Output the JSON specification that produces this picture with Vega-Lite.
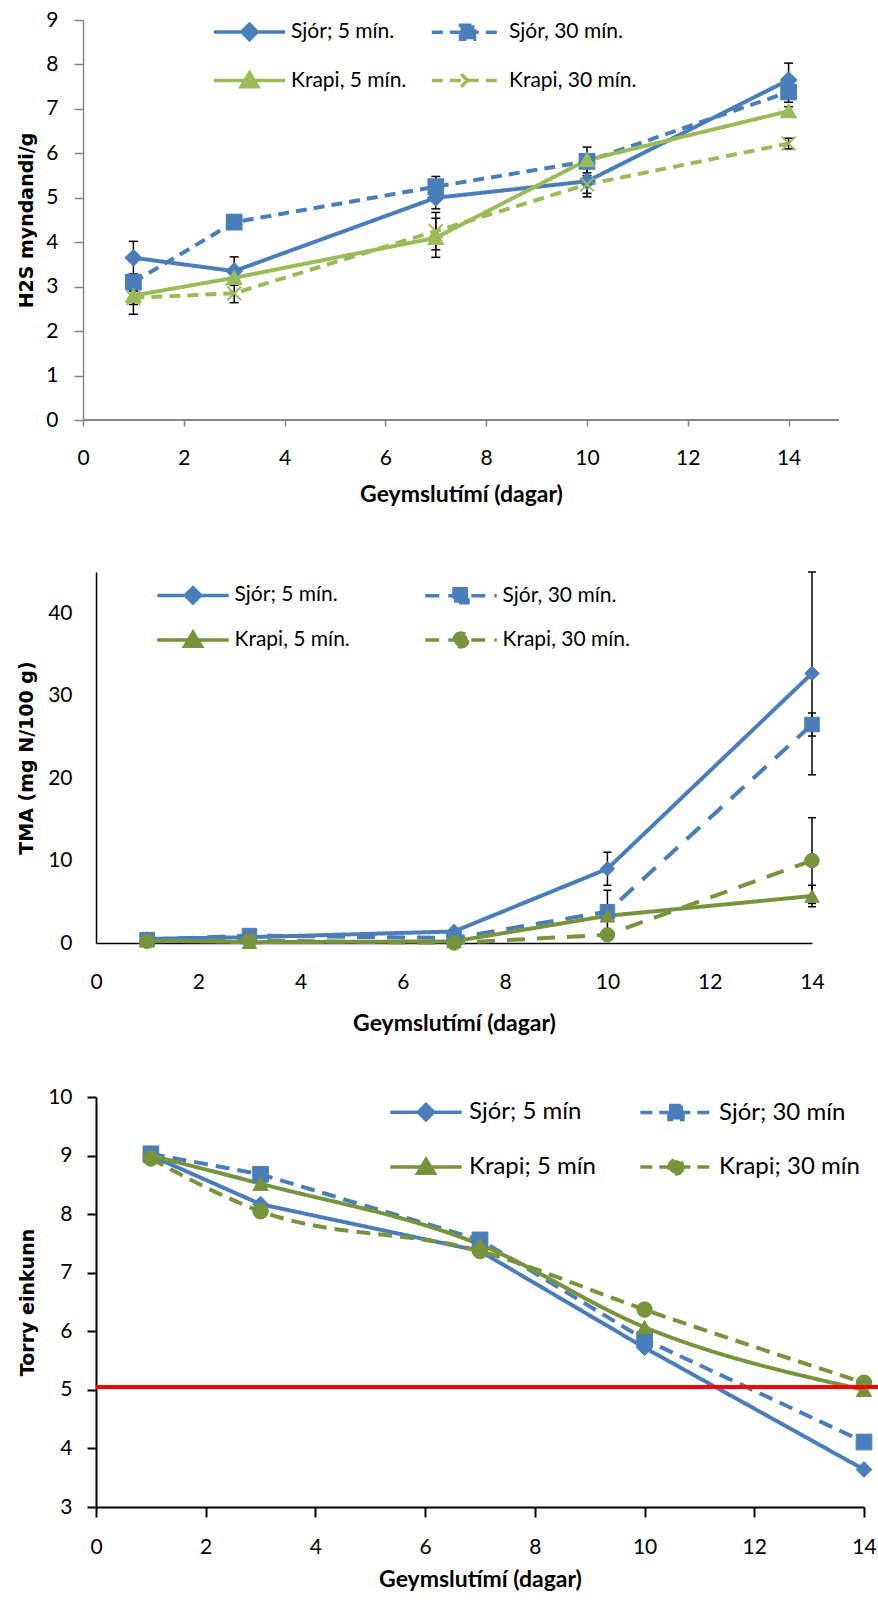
{
  "$schema": "https://vega.github.io/schema/vega-lite/v6.json",
  "background": "white",
  "padding": {"left": 17, "top": 9, "right": 0, "bottom": 0},
  "config": {
    "view": {"stroke": null},
    "axis": {"grid": false, "labelFont": "Lato", "labelFontSize": 21, "labelColor": "#000000", "titleColor": "#000000"},
    "legend": {"labelFont": "Lato", "labelColor": "#000000"}
  },
  "datasets": {
    "h2s": [
      {"s": "Sjór; 5 mín.", "x": 1, "y": 3.65, "lo": 3.28, "hi": 4.02},
      {"s": "Sjór; 5 mín.", "x": 3, "y": 3.35, "lo": 3.03, "hi": 3.67},
      {"s": "Sjór; 5 mín.", "x": 7, "y": 5.0, "lo": 4.75, "hi": 5.25},
      {"s": "Sjór; 5 mín.", "x": 10, "y": 5.37, "lo": 5.02, "hi": 5.72},
      {"s": "Sjór; 5 mín.", "x": 14, "y": 7.65, "lo": 7.27, "hi": 8.03},
      {"s": "Sjór, 30 mín.", "x": 1, "y": 3.1, "lo": 2.92, "hi": 3.28},
      {"s": "Sjór, 30 mín.", "x": 3, "y": 4.45, "lo": 4.3, "hi": 4.6},
      {"s": "Sjór, 30 mín.", "x": 7, "y": 5.25, "lo": 5.02, "hi": 5.48},
      {"s": "Sjór, 30 mín.", "x": 10, "y": 5.82, "lo": 5.7, "hi": 5.94},
      {"s": "Sjór, 30 mín.", "x": 14, "y": 7.38, "lo": 7.15, "hi": 7.61},
      {"s": "Krapi, 5 mín.", "x": 1, "y": 2.8, "lo": 2.38, "hi": 3.22},
      {"s": "Krapi, 5 mín.", "x": 3, "y": 3.2, "lo": 3.05, "hi": 3.35},
      {"s": "Krapi, 5 mín.", "x": 7, "y": 4.1, "lo": 3.66, "hi": 4.54},
      {"s": "Krapi, 5 mín.", "x": 10, "y": 5.85, "lo": 5.56, "hi": 6.14},
      {"s": "Krapi, 5 mín.", "x": 14, "y": 6.95, "lo": 6.85, "hi": 7.05},
      {"s": "Krapi, 30 mín.", "x": 1, "y": 2.75, "lo": 2.6, "hi": 2.9},
      {"s": "Krapi, 30 mín.", "x": 3, "y": 2.85, "lo": 2.64, "hi": 3.06},
      {"s": "Krapi, 30 mín.", "x": 7, "y": 4.25, "lo": 3.83, "hi": 4.67},
      {"s": "Krapi, 30 mín.", "x": 10, "y": 5.3, "lo": 5.1, "hi": 5.5},
      {"s": "Krapi, 30 mín.", "x": 14, "y": 6.22, "lo": 6.1, "hi": 6.34}
    ],
    "tma": [
      {"s": "Sjór; 5 mín.", "x": 1, "y": 0.5, "lo": null, "hi": null},
      {"s": "Sjór; 5 mín.", "x": 3, "y": 0.7, "lo": null, "hi": null},
      {"s": "Sjór; 5 mín.", "x": 7, "y": 1.4, "lo": null, "hi": null},
      {"s": "Sjór; 5 mín.", "x": 10, "y": 9.0, "lo": 7.0, "hi": 11.0},
      {"s": "Sjór; 5 mín.", "x": 14, "y": 32.7, "lo": 20.4, "hi": 45.0},
      {"s": "Sjór, 30 mín.", "x": 1, "y": 0.4, "lo": null, "hi": null},
      {"s": "Sjór, 30 mín.", "x": 3, "y": 0.9, "lo": null, "hi": null},
      {"s": "Sjór, 30 mín.", "x": 7, "y": 0.6, "lo": null, "hi": null},
      {"s": "Sjór, 30 mín.", "x": 10, "y": 3.8, "lo": 1.2, "hi": 6.4},
      {"s": "Sjór, 30 mín.", "x": 14, "y": 26.5, "lo": 25.1, "hi": 27.9},
      {"s": "Krapi, 5 mín.", "x": 1, "y": 0.3, "lo": null, "hi": null},
      {"s": "Krapi, 5 mín.", "x": 3, "y": 0.1, "lo": null, "hi": null},
      {"s": "Krapi, 5 mín.", "x": 7, "y": 0.2, "lo": null, "hi": null},
      {"s": "Krapi, 5 mín.", "x": 10, "y": 3.3, "lo": 2.8, "hi": 3.8},
      {"s": "Krapi, 5 mín.", "x": 14, "y": 5.7, "lo": 4.4, "hi": 7.0},
      {"s": "Krapi, 30 mín.", "x": 1, "y": 0.2, "lo": null, "hi": null},
      {"s": "Krapi, 30 mín.", "x": 3, "y": 0.3, "lo": null, "hi": null},
      {"s": "Krapi, 30 mín.", "x": 7, "y": 0.0, "lo": null, "hi": null},
      {"s": "Krapi, 30 mín.", "x": 10, "y": 1.0, "lo": null, "hi": null},
      {"s": "Krapi, 30 mín.", "x": 14, "y": 10.0, "lo": 4.8, "hi": 15.2}
    ],
    "torry": [
      {"s": "Sjór; 5 mín", "x": 1, "y": 9.0},
      {"s": "Sjór; 5 mín", "x": 3, "y": 8.17},
      {"s": "Sjór; 5 mín", "x": 7, "y": 7.37},
      {"s": "Sjór; 5 mín", "x": 10, "y": 5.72},
      {"s": "Sjór; 5 mín", "x": 14, "y": 3.64},
      {"s": "Sjór; 30 mín", "x": 1, "y": 9.03},
      {"s": "Sjór; 30 mín", "x": 3, "y": 8.68},
      {"s": "Sjór; 30 mín", "x": 7, "y": 7.56},
      {"s": "Sjór; 30 mín", "x": 10, "y": 5.86},
      {"s": "Sjór; 30 mín", "x": 14, "y": 4.11},
      {"s": "Krapi; 5 mín", "x": 1, "y": 9.0},
      {"s": "Krapi; 5 mín", "x": 3, "y": 8.52},
      {"s": "Krapi; 5 mín", "x": 7, "y": 7.48},
      {"s": "Krapi; 5 mín", "x": 10, "y": 6.07},
      {"s": "Krapi; 5 mín", "x": 14, "y": 5.0},
      {"s": "Krapi; 30 mín", "x": 1, "y": 8.95},
      {"s": "Krapi; 30 mín", "x": 3, "y": 8.05},
      {"s": "Krapi; 30 mín", "x": 7, "y": 7.37},
      {"s": "Krapi; 30 mín", "x": 10, "y": 6.37},
      {"s": "Krapi; 30 mín", "x": 14, "y": 5.12}
    ]
  },
  "columns": 1,
  "bounds": "full",
  "spacing": 65,
  "resolve": {"scale": {"color": "independent", "fill": "independent", "shape": "independent", "strokeDash": "independent", "stroke": "independent", "size": "independent"}},
  "concat": [
    {
      "width": 743,
      "height": 400,
      "data": {"name": "h2s"},
      "resolve": {"scale": {"color": "independent", "fill": "independent", "shape": "independent", "strokeDash": "independent", "stroke": "independent", "size": "independent"}},
      "encoding": {
        "x": {"field": "x", "type": "quantitative", "scale": {"domain": [0, 15], "range": [-13, 743], "nice": false},
          "axis": {"values": [0, 2, 4, 6, 8, 10, 12, 14], "title": "Geymslutímí (dagar)", "titleFont": "Lato", "titleFontSize": 23, "titleFontWeight": "bold", "titlePadding": 15,
            "domain": false, "tickColor": "#868686", "tickWidth": 1.5, "tickSize": 6, "labelPadding": 21, "labelFlush": false}},
        "y": {"field": "y", "type": "quantitative", "scale": {"domain": [0, 9], "nice": false},
          "axis": {"values": [0, 1, 2, 3, 4, 5, 6, 7, 8, 9], "title": "H2S myndandi/g", "titleFont": "DejaVu Sans", "titleFontSize": 19, "titleFontWeight": "bold", "titlePadding": 10, "minExtent": 37, "maxExtent": 37, "offset": 13,
            "domainColor": "#868686", "domainWidth": 1.5, "tickColor": "#868686", "tickWidth": 1.5, "tickSize": 9, "labelPadding": 16}}
      },
      "layer": [
        {
          "mark": {"type": "rule", "color": "#868686", "strokeWidth": 1.5},
          "encoding": {"x": {"datum": 0}, "x2": {"datum": 15}, "y": {"datum": 0}}
        },
        {
          "mark": {"type": "line", "strokeWidth": 4},
          "encoding": {
            "color": {"field": "s", "type": "nominal", "legend": null, "scale": {"domain": ["Sjór; 5 mín.", "Sjór, 30 mín.", "Krapi, 5 mín.", "Krapi, 30 mín."], "range": ["#4A7EBB", "#4A7EBB", "#9BBB59", "#9BBB59"]}},
            "strokeDash": {"field": "s", "type": "nominal", "legend": null, "scale": {"domain": ["Sjór; 5 mín.", "Sjór, 30 mín.", "Krapi, 5 mín.", "Krapi, 30 mín."], "range": [[1, 0], [11, 7], [1, 0], [11, 7]]}}
          }
        },
        {
          "transform": [{"filter": "isValid(datum.lo)"}],
          "mark": {"type": "rule", "color": "#000000", "strokeWidth": 1.5},
          "encoding": {
            "y": {"field": "lo", "type": "quantitative", "scale": {"domain": [0, 9], "nice": false},
              "axis": {"values": [0, 1, 2, 3, 4, 5, 6, 7, 8, 9], "title": "H2S myndandi/g", "titleFont": "DejaVu Sans", "titleFontSize": 19, "titleFontWeight": "bold", "titlePadding": 10, "minExtent": 37, "maxExtent": 37, "offset": 13,
                "domainColor": "#868686", "domainWidth": 1.5, "tickColor": "#868686", "tickWidth": 1.5, "tickSize": 9, "labelPadding": 16}},
            "y2": {"field": "hi"}
          }
        },
        {
          "transform": [{"filter": "isValid(datum.lo)"}],
          "mark": {"type": "tick", "orient": "horizontal", "color": "#000000", "size": 9, "thickness": 1.5, "opacity": 1},
          "encoding": {
            "y": {"field": "lo", "type": "quantitative", "scale": {"domain": [0, 9], "nice": false},
              "axis": {"values": [0, 1, 2, 3, 4, 5, 6, 7, 8, 9], "title": "H2S myndandi/g", "titleFont": "DejaVu Sans", "titleFontSize": 19, "titleFontWeight": "bold", "titlePadding": 10, "minExtent": 37, "maxExtent": 37, "offset": 13,
                "domainColor": "#868686", "domainWidth": 1.5, "tickColor": "#868686", "tickWidth": 1.5, "tickSize": 9, "labelPadding": 16}}
          }
        },
        {
          "transform": [{"filter": "isValid(datum.hi)"}],
          "mark": {"type": "tick", "orient": "horizontal", "color": "#000000", "size": 9, "thickness": 1.5, "opacity": 1},
          "encoding": {
            "y": {"field": "hi", "type": "quantitative", "scale": {"domain": [0, 9], "nice": false},
              "axis": {"values": [0, 1, 2, 3, 4, 5, 6, 7, 8, 9], "title": "H2S myndandi/g", "titleFont": "DejaVu Sans", "titleFontSize": 19, "titleFontWeight": "bold", "titlePadding": 10, "minExtent": 37, "maxExtent": 37, "offset": 13,
                "domainColor": "#868686", "domainWidth": 1.5, "tickColor": "#868686", "tickWidth": 1.5, "tickSize": 9, "labelPadding": 16}}
          }
        },
        {
          "mark": {"type": "point", "filled": true, "opacity": 1, "strokeWidth": 2},
          "encoding": {
            "color": {"field": "s", "type": "nominal", "legend": null, "scale": {"domain": ["Sjór; 5 mín.", "Sjór, 30 mín.", "Krapi, 5 mín.", "Krapi, 30 mín."], "range": ["#4A7EBB", "#4A7EBB", "#9BBB59", "#9BBB59"]}},
            "stroke": {"field": "s", "type": "nominal", "legend": null, "scale": {"domain": ["Sjór; 5 mín.", "Sjór, 30 mín.", "Krapi, 5 mín.", "Krapi, 30 mín."], "range": ["#4A7EBB", "#4A7EBB", "#9BBB59", "#9BBB59"]}},
            "shape": {"field": "s", "type": "nominal", "legend": null, "scale": {"domain": ["Sjór; 5 mín.", "Sjór, 30 mín.", "Krapi, 5 mín.", "Krapi, 30 mín."], "range": ["diamond", "square", "triangle-up", "M-1,-1L1,1M-1,1L1,-1"]}},
            "size": {"field": "s", "type": "nominal", "legend": null, "scale": {"domain": ["Sjór; 5 mín.", "Sjór, 30 mín.", "Krapi, 5 mín.", "Krapi, 30 mín."], "range": [230, 190, 230, 150]}}
          }
        },
        {
          "mark": {"type": "point", "filled": false, "opacity": 0},
          "encoding": {
            "stroke": {"field": "s", "type": "nominal", "scale": {"domain": ["Sjór; 5 mín.", "Sjór, 30 mín.", "Krapi, 5 mín.", "Krapi, 30 mín."], "range": ["#4A7EBB", "#4A7EBB", "#9BBB59", "#9BBB59"]},
              "legend": {"title": null, "orient": "none", "direction": "horizontal", "legendX": 143, "legendY": 1, "columns": 2, "padding": 0, "symbolSize": 196, "symbolStrokeWidth": 3.5, "symbolOpacity": 1, "labelFontSize": 21, "labelOffset": 31, "columnPadding": 17, "rowPadding": 18,
                "encoding": {"symbols": {"fill": {"condition": {"test": "indexof(datum.value, 'Sjór') >= 0", "value": "#4A7EBB"}, "value": "#9BBB59"}, "fillOpacity": {"value": 1}}}}},
            "shape": {"field": "s", "type": "nominal", "scale": {"domain": ["Sjór; 5 mín.", "Sjór, 30 mín.", "Krapi, 5 mín.", "Krapi, 30 mín."], "range": ["M-5.1,0H5.1M0,-1.1L1.1,0L0,1.1L-1.1,0Z", "M-5.1,0H5.1M-1,-1H1V1H-1Z", "M-5.1,0H5.1M0,-1.1L1.2,0.9H-1.2Z", "M-5.1,0H5.1M-0.9,-0.9L0.9,0.9M-0.9,0.9L0.9,-0.9"]}},
            "strokeDash": {"field": "s", "type": "nominal", "scale": {"domain": ["Sjór; 5 mín.", "Sjór, 30 mín.", "Krapi, 5 mín.", "Krapi, 30 mín."], "range": [[1, 0], [11, 7], [1, 0], [11, 7]]}}
          }
        }
      ]
    },
    {
      "columns": 1,
      "bounds": "full",
      "spacing": 51,
      "resolve": {"scale": {"color": "independent", "fill": "independent", "shape": "independent", "strokeDash": "independent", "stroke": "independent", "size": "independent"}},
      "concat": [
        {
          "width": 716,
          "height": 371,
          "data": {"name": "tma"},
          "resolve": {"scale": {"color": "independent", "fill": "independent", "shape": "independent", "strokeDash": "independent", "stroke": "independent", "size": "independent"}},
          "encoding": {
            "x": {"field": "x", "type": "quantitative", "scale": {"domain": [0, 14], "nice": false},
              "axis": {"values": [0, 2, 4, 6, 8, 10, 12, 14], "title": "Geymslutímí (dagar)", "titleFont": "Lato", "titleFontSize": 23, "titleFontWeight": "bold", "titlePadding": 20,
                "domainColor": "#000000", "domainWidth": 1.5, "ticks": false, "labelPadding": 28, "labelFlush": false}},
            "y": {"field": "y", "type": "quantitative", "scale": {"domain": [0, 45], "nice": false},
              "axis": {"values": [0, 10, 20, 30, 40], "title": "TMA  (mg N/100 g)", "titleFont": "DejaVu Sans", "titleFontSize": 19, "titleFontWeight": "bold", "titlePadding": 11, "minExtent": 49, "maxExtent": 49,
                "domainColor": "#000000", "domainWidth": 1.5, "ticks": false, "labelPadding": 24}}
          },
          "layer": [
            {
              "mark": {"type": "line", "strokeWidth": 4},
              "encoding": {
                "color": {"field": "s", "type": "nominal", "legend": null, "scale": {"domain": ["Sjór; 5 mín.", "Sjór, 30 mín.", "Krapi, 5 mín.", "Krapi, 30 mín."], "range": ["#4A7EBB", "#4A7EBB", "#77933C", "#77933C"]}},
                "strokeDash": {"field": "s", "type": "nominal", "legend": null, "scale": {"domain": ["Sjór; 5 mín.", "Sjór, 30 mín.", "Krapi, 5 mín.", "Krapi, 30 mín."], "range": [[1, 0], [18, 12], [1, 0], [18, 12]]}}
              }
            },
            {
              "transform": [{"filter": "isValid(datum.lo)"}],
              "mark": {"type": "rule", "color": "#000000", "strokeWidth": 1.5},
              "encoding": {
                "y": {"field": "lo", "type": "quantitative", "scale": {"domain": [0, 45], "nice": false},
                  "axis": {"values": [0, 10, 20, 30, 40], "title": "TMA  (mg N/100 g)", "titleFont": "DejaVu Sans", "titleFontSize": 19, "titleFontWeight": "bold", "titlePadding": 11, "minExtent": 49, "maxExtent": 49,
                    "domainColor": "#000000", "domainWidth": 1.5, "ticks": false, "labelPadding": 24}},
                "y2": {"field": "hi"}
              }
            },
            {
              "transform": [{"filter": "isValid(datum.lo)"}],
              "mark": {"type": "tick", "orient": "horizontal", "color": "#000000", "size": 8, "thickness": 1.5, "opacity": 1},
              "encoding": {
                "y": {"field": "lo", "type": "quantitative", "scale": {"domain": [0, 45], "nice": false},
                  "axis": {"values": [0, 10, 20, 30, 40], "title": "TMA  (mg N/100 g)", "titleFont": "DejaVu Sans", "titleFontSize": 19, "titleFontWeight": "bold", "titlePadding": 11, "minExtent": 49, "maxExtent": 49,
                    "domainColor": "#000000", "domainWidth": 1.5, "ticks": false, "labelPadding": 24}}
              }
            },
            {
              "transform": [{"filter": "isValid(datum.hi)"}],
              "mark": {"type": "tick", "orient": "horizontal", "color": "#000000", "size": 8, "thickness": 1.5, "opacity": 1},
              "encoding": {
                "y": {"field": "hi", "type": "quantitative", "scale": {"domain": [0, 45], "nice": false},
                  "axis": {"values": [0, 10, 20, 30, 40], "title": "TMA  (mg N/100 g)", "titleFont": "DejaVu Sans", "titleFontSize": 19, "titleFontWeight": "bold", "titlePadding": 11, "minExtent": 49, "maxExtent": 49,
                    "domainColor": "#000000", "domainWidth": 1.5, "ticks": false, "labelPadding": 24}}
              }
            },
            {
              "mark": {"type": "point", "filled": true, "opacity": 1, "strokeWidth": 1},
              "encoding": {
                "color": {"field": "s", "type": "nominal", "legend": null, "scale": {"domain": ["Sjór; 5 mín.", "Sjór, 30 mín.", "Krapi, 5 mín.", "Krapi, 30 mín."], "range": ["#4A7EBB", "#4A7EBB", "#77933C", "#77933C"]}},
                "stroke": {"field": "s", "type": "nominal", "legend": null, "scale": {"domain": ["Sjór; 5 mín.", "Sjór, 30 mín.", "Krapi, 5 mín.", "Krapi, 30 mín."], "range": ["#4A7EBB", "#4A7EBB", "#77933C", "#77933C"]}},
                "shape": {"field": "s", "type": "nominal", "legend": null, "scale": {"domain": ["Sjór; 5 mín.", "Sjór, 30 mín.", "Krapi, 5 mín.", "Krapi, 30 mín."], "range": ["diamond", "square", "triangle-up", "circle"]}},
                "size": {"field": "s", "type": "nominal", "legend": null, "scale": {"domain": ["Sjór; 5 mín.", "Sjór, 30 mín.", "Krapi, 5 mín.", "Krapi, 30 mín."], "range": [210, 210, 240, 210]}}
              }
            },
            {
              "mark": {"type": "point", "filled": false, "opacity": 0},
              "encoding": {
                "stroke": {"field": "s", "type": "nominal", "scale": {"domain": ["Sjór; 5 mín.", "Sjór, 30 mín.", "Krapi, 5 mín.", "Krapi, 30 mín."], "range": ["#4A7EBB", "#4A7EBB", "#77933C", "#77933C"]},
                  "legend": {"title": null, "orient": "none", "direction": "horizontal", "legendX": 86.5, "legendY": 12.5, "columns": 2, "padding": 0, "symbolSize": 196, "symbolStrokeWidth": 3.5, "symbolOpacity": 1, "labelFontSize": 21, "labelOffset": 31, "columnPadding": 67, "rowPadding": 14,
                    "encoding": {"symbols": {"fill": {"condition": {"test": "indexof(datum.value, 'Sjór') >= 0", "value": "#4A7EBB"}, "value": "#77933C"}, "fillOpacity": {"value": 1}}}}},
                "shape": {"field": "s", "type": "nominal", "scale": {"domain": ["Sjór; 5 mín.", "Sjór, 30 mín.", "Krapi, 5 mín.", "Krapi, 30 mín."], "range": ["M-5.1,0H5.1M0,-1.1L1.1,0L0,1.1L-1.1,0Z", "M-5.1,0H5.1M-1,-1H1V1H-1Z", "M-5.1,0H5.1M0,-1.1L1.2,0.9H-1.2Z", "M-5.1,0H5.1M1,0L0.87,0.5L0.5,0.87L0,1L-0.5,0.87L-0.87,0.5L-1,0L-0.87,-0.5L-0.5,-0.87L0,-1L0.5,-0.87L0.87,-0.5Z"]}},
                "strokeDash": {"field": "s", "type": "nominal", "scale": {"domain": ["Sjór; 5 mín.", "Sjór, 30 mín.", "Krapi, 5 mín.", "Krapi, 30 mín."], "range": [[1, 0], [14, 9], [1, 0], [14, 9]]}}
              }
            }
          ]
        },
        {
          "width": 768,
          "height": 410,
          "data": {"name": "torry"},
          "resolve": {"scale": {"color": "independent", "fill": "independent", "shape": "independent", "strokeDash": "independent", "stroke": "independent", "size": "independent"}},
          "encoding": {
            "x": {"field": "x", "type": "quantitative", "scale": {"domain": [0, 14], "nice": false},
              "axis": {"values": [0, 2, 4, 6, 8, 10, 12, 14], "title": "Geymslutímí (dagar)", "titleFont": "Lato", "titleFontSize": 23, "titleFontWeight": "bold", "titlePadding": 11,
                "domainColor": "#000000", "domainWidth": 2, "tickColor": "#000000", "tickWidth": 2, "tickSize": 10, "labelPadding": 19, "labelFlush": false}},
            "y": {"field": "y", "type": "quantitative", "scale": {"domain": [3, 10], "nice": false, "zero": false},
              "axis": {"values": [3, 4, 5, 6, 7, 8, 9, 10], "title": "Torry einkunn", "titleFont": "DejaVu Sans", "titleFontSize": 19, "titleFontWeight": "bold", "titlePadding": 10, "minExtent": 49, "maxExtent": 49,
                "domainColor": "#000000", "domainWidth": 2, "tickColor": "#000000", "tickWidth": 2, "tickSize": 9, "labelPadding": 15}}
          },
          "layer": [
            {
              "transform": [{"filter": "indexof(datum.s, 'Sjór') >= 0"}],
              "mark": {"type": "line", "strokeWidth": 4},
              "encoding": {
                "color": {"field": "s", "type": "nominal", "legend": null, "scale": {"domain": ["Sjór; 5 mín", "Sjór; 30 mín", "Krapi; 5 mín", "Krapi; 30 mín"], "range": ["#4A7EBB", "#4A7EBB", "#77933C", "#77933C"]}},
                "strokeDash": {"field": "s", "type": "nominal", "legend": null, "scale": {"domain": ["Sjór; 5 mín", "Sjór; 30 mín", "Krapi; 5 mín", "Krapi; 30 mín"], "range": [[1, 0], [14, 8], [1, 0], [14, 8]]}}
              }
            },
            {
              "transform": [{"filter": "indexof(datum.s, 'Krapi') >= 0"}],
              "mark": {"type": "line", "strokeWidth": 4, "interpolate": "monotone"},
              "encoding": {
                "color": {"field": "s", "type": "nominal", "legend": null, "scale": {"domain": ["Sjór; 5 mín", "Sjór; 30 mín", "Krapi; 5 mín", "Krapi; 30 mín"], "range": ["#4A7EBB", "#4A7EBB", "#77933C", "#77933C"]}},
                "strokeDash": {"field": "s", "type": "nominal", "legend": null, "scale": {"domain": ["Sjór; 5 mín", "Sjór; 30 mín", "Krapi; 5 mín", "Krapi; 30 mín"], "range": [[1, 0], [14, 8], [1, 0], [14, 8]]}}
              }
            },
            {
              "mark": {"type": "point", "filled": true, "opacity": 1, "strokeWidth": 1},
              "encoding": {
                "color": {"field": "s", "type": "nominal", "legend": null, "scale": {"domain": ["Sjór; 5 mín", "Sjór; 30 mín", "Krapi; 5 mín", "Krapi; 30 mín"], "range": ["#4A7EBB", "#4A7EBB", "#77933C", "#77933C"]}},
                "stroke": {"field": "s", "type": "nominal", "legend": null, "scale": {"domain": ["Sjór; 5 mín", "Sjór; 30 mín", "Krapi; 5 mín", "Krapi; 30 mín"], "range": ["#4A7EBB", "#4A7EBB", "#77933C", "#77933C"]}},
                "shape": {"field": "s", "type": "nominal", "legend": null, "scale": {"domain": ["Sjór; 5 mín", "Sjór; 30 mín", "Krapi; 5 mín", "Krapi; 30 mín"], "range": ["diamond", "square", "triangle-up", "circle"]}},
                "size": {"field": "s", "type": "nominal", "legend": null, "scale": {"domain": ["Sjór; 5 mín", "Sjór; 30 mín", "Krapi; 5 mín", "Krapi; 30 mín"], "range": [250, 240, 260, 240]}}
              }
            },
            {
              "mark": {"type": "rule", "color": "#FF0000", "strokeWidth": 3},
              "encoding": {"x": {"datum": 0}, "x2": {"datum": 14.5}, "y": {"datum": 5.05}}
            },
            {
              "mark": {"type": "point", "filled": false, "opacity": 0},
              "encoding": {
                "stroke": {"field": "s", "type": "nominal", "scale": {"domain": ["Sjór; 5 mín", "Sjór; 30 mín", "Krapi; 5 mín", "Krapi; 30 mín"], "range": ["#4A7EBB", "#4A7EBB", "#77933C", "#77933C"]},
                  "legend": {"title": null, "orient": "none", "direction": "horizontal", "legendX": 318, "legendY": 3, "columns": 2, "padding": 0, "symbolSize": 196, "symbolStrokeWidth": 3.5, "symbolOpacity": 1, "labelFontSize": 24, "labelOffset": 31, "columnPadding": 37, "rowPadding": 25,
                    "encoding": {"symbols": {"fill": {"condition": {"test": "indexof(datum.value, 'Sjór') >= 0", "value": "#4A7EBB"}, "value": "#77933C"}, "fillOpacity": {"value": 1}}}}},
                "shape": {"field": "s", "type": "nominal", "scale": {"domain": ["Sjór; 5 mín", "Sjór; 30 mín", "Krapi; 5 mín", "Krapi; 30 mín"], "range": ["M-5.1,0H5.1M0,-1.1L1.1,0L0,1.1L-1.1,0Z", "M-5.1,0H5.1M-1,-1H1V1H-1Z", "M-5.1,0H5.1M0,-1.1L1.2,0.9H-1.2Z", "M-5.1,0H5.1M1,0L0.87,0.5L0.5,0.87L0,1L-0.5,0.87L-0.87,0.5L-1,0L-0.87,-0.5L-0.5,-0.87L0,-1L0.5,-0.87L0.87,-0.5Z"]}},
                "strokeDash": {"field": "s", "type": "nominal", "scale": {"domain": ["Sjór; 5 mín", "Sjór; 30 mín", "Krapi; 5 mín", "Krapi; 30 mín"], "range": [[1, 0], [12, 7], [1, 0], [12, 7]]}}
              }
            }
          ]
        }
      ]
    }
  ]
}
